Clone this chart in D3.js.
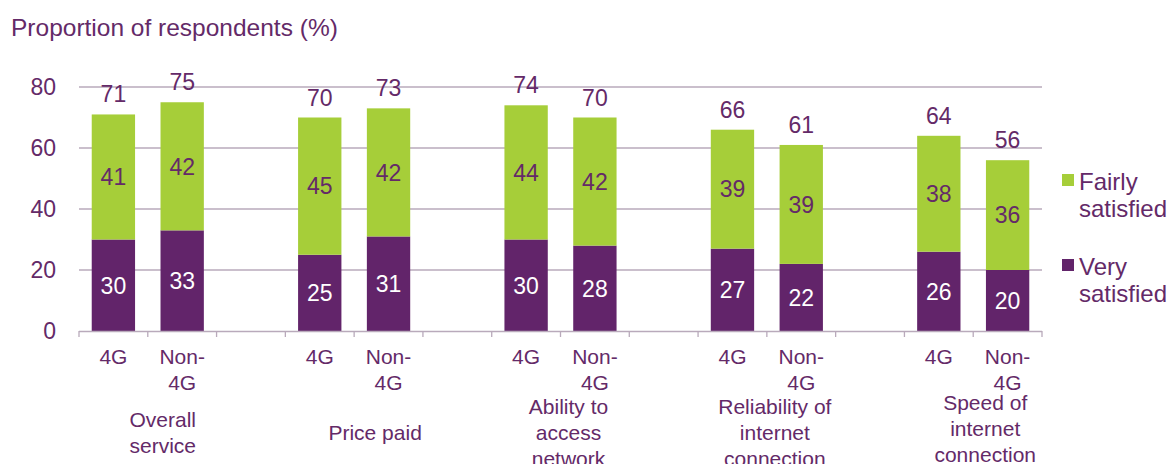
<!DOCTYPE html>
<html>
<head>
<meta charset="utf-8">
<script src="https://cdn.jsdelivr.net/npm/d3@7"></script>
<style>
  html, body { margin: 0; padding: 0; background: #fff; }
  svg { display: block; font-family: "Liberation Sans", Arial, sans-serif; }
</style>
</head>
<body>
<svg id="chart" width="1172" height="464"></svg>
<script>
// ---- data ----
const groups = ["Overall service", "Price paid", "Ability to access network", "Reliability of internet connection", "Speed of internet connection"];
const groupLines = [["Overall", "service"], ["Price paid"], ["Ability to", "access", "network"], ["Reliability of", "internet", "connection"], ["Speed of", "internet", "connection"]];
const types = ["4G", "Non-4G"];
const typeLines = [["4G"], ["Non-", "4G"]];
const verySatisfied = [30, 33, 25, 31, 30, 28, 27, 22, 26, 20];
const fairlySatisfied = [41, 42, 45, 42, 44, 42, 39, 39, 38, 36];
const totals = [71, 75, 70, 73, 74, 70, 66, 61, 64, 56];
const yTicks = [0, 20, 40, 60, 80];
const seriesNames = ["Fairly satisfied", "Very satisfied"];

(function () {
// ---- styles ----
const PURPLE = "#62246a";
const GREEN = "#a6ce39";
const TEXT = "#642a68";
const GRID = "#b9aabb";

const svg = d3.select("#chart");
const plotLeft = 79, plotRight = 1042, plotTop = 87, plotBottom = 331;

// build slots: two bars per group, blank gap between groups
const slots = [];
groups.forEach((g, gi) => {
  types.forEach((t, ti) => slots.push({key: gi + "-" + t, gi, ti, idx: gi * 2 + ti}));
  if (gi < groups.length - 1) slots.push({key: gi + "-gap", gap: true});
});

const x = d3.scaleBand().domain(slots.map(s => s.key)).range([plotLeft, plotRight]).paddingInner(0.37).paddingOuter(0.185);
const y = d3.scaleLinear().domain([0, 80]).range([plotBottom, plotTop]);
const step = x.step();

// gridlines
svg.append("g").selectAll("line").data(yTicks.filter(d => d > 0)).join("line")
  .attr("x1", plotLeft).attr("x2", plotRight)
  .attr("y1", d => y(d)).attr("y2", d => y(d))
  .attr("stroke", GRID).attr("stroke-width", 1.3);

// y tick labels
svg.append("g").selectAll("text").data(yTicks).join("text")
  .attr("x", 56).attr("y", d => y(d)).attr("dy", "0.35em")
  .attr("text-anchor", "end").attr("fill", TEXT).attr("font-size", 23)
  .text(d => d);

// title
svg.append("text").attr("x", 11).attr("y", 36).attr("fill", TEXT).attr("font-size", 24.5)
  .text("Proportion of respondents (%)");

const bars = slots.filter(s => !s.gap);

// bars
const bg = svg.append("g");
bg.selectAll("rect.very").data(bars).join("rect").attr("class", "very")
  .attr("x", d => x(d.key)).attr("width", x.bandwidth())
  .attr("y", d => y(verySatisfied[d.idx])).attr("height", d => y(0) - y(verySatisfied[d.idx]))
  .attr("fill", PURPLE);
bg.selectAll("rect.fairly").data(bars).join("rect").attr("class", "fairly")
  .attr("x", d => x(d.key)).attr("width", x.bandwidth())
  .attr("y", d => y(verySatisfied[d.idx] + fairlySatisfied[d.idx]))
  .attr("height", d => y(verySatisfied[d.idx]) - y(verySatisfied[d.idx] + fairlySatisfied[d.idx]))
  .attr("fill", GREEN);

// axis baseline & ticks
svg.append("line").attr("x1", plotLeft).attr("x2", plotRight).attr("y1", plotBottom + 0.5).attr("y2", plotBottom + 0.5)
  .attr("stroke", GRID).attr("stroke-width", 1.3);
svg.append("g").selectAll("line").data(d3.range(slots.length + 1)).join("line")
  .attr("x1", i => plotLeft + i * step).attr("x2", i => plotLeft + i * step)
  .attr("y1", plotBottom).attr("y2", plotBottom + 6)
  .attr("stroke", GRID).attr("stroke-width", 1.3);

// value labels
const cx = d => x(d.key) + x.bandwidth() / 2;
const lg = svg.append("g").attr("text-anchor", "middle").attr("font-size", 23);
lg.selectAll("text.v").data(bars).join("text").attr("class", "v")
  .attr("x", cx).attr("y", d => (y(0) + y(verySatisfied[d.idx])) / 2).attr("dy", "0.36em")
  .attr("fill", "#fff").text(d => verySatisfied[d.idx]);
lg.selectAll("text.f").data(bars).join("text").attr("class", "f")
  .attr("x", cx).attr("y", d => (y(verySatisfied[d.idx]) + y(verySatisfied[d.idx] + fairlySatisfied[d.idx])) / 2).attr("dy", "0.36em")
  .attr("fill", TEXT).text(d => fairlySatisfied[d.idx]);
lg.selectAll("text.t").data(bars).join("text").attr("class", "t")
  .attr("x", cx).attr("y", d => y(totals[d.idx]) - 12)
  .attr("fill", TEXT).text(d => totals[d.idx]);

// category labels
const cg = svg.append("g").attr("text-anchor", "middle").attr("font-size", 21).attr("fill", TEXT);
bars.forEach(d => {
  typeLines[d.ti].forEach((ln, li) => {
    cg.append("text").attr("x", cx(d)).attr("y", 364 + li * 26).text(ln);
  });
});

// group labels
const shift = [15, 21, 8, 8, 12];
const vshift = [0, 0, 0, 0, -4];
groups.forEach((g, gi) => {
  const x0 = x(gi + "-4G") + x.bandwidth() / 2, x1 = x(gi + "-Non-4G") + x.bandwidth() / 2;
  const mid = (x0 + x1) / 2 + shift[gi];
  const lines = groupLines[gi];
  const c = 433 + vshift[gi];
  lines.forEach((ln, li) => {
    cg.append("text").attr("x", mid).attr("y", c + (li - (lines.length - 1) / 2) * 26).attr("dy", "0.35em").text(ln);
  });
});

// legend
const legend = svg.append("g").attr("fill", TEXT).attr("font-size", 24);
const legendColors = [GREEN, PURPLE];
const legendY = [174, 259];
seriesNames.forEach((n, i) => {
  legend.append("rect").attr("x", 1062).attr("y", legendY[i]).attr("width", 12).attr("height", 12).attr("fill", legendColors[i]);
  const parts = n.split(" ");
  parts.forEach((p, pi) => {
    legend.append("text").attr("x", 1079).attr("y", legendY[i] + 16 + pi * 27).text(p);
  });
});
})();
</script>
</body>
</html>
